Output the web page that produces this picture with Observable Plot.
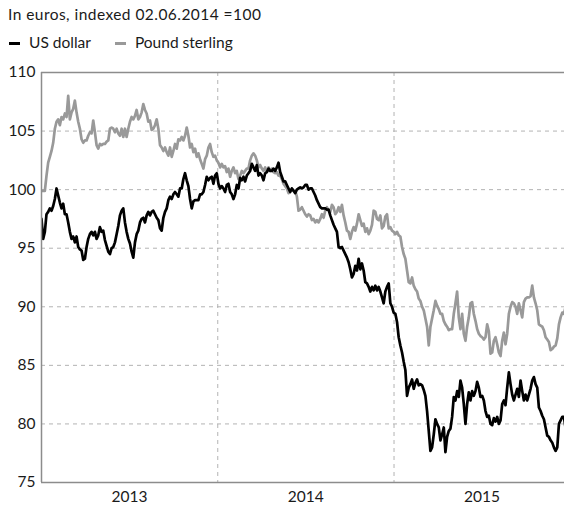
<!DOCTYPE html>
<html><head><meta charset="utf-8">
<script src="https://cdn.jsdelivr.net/npm/d3@7"></script>
<script src="https://cdn.jsdelivr.net/npm/@observablehq/plot@0.6"></script>
<style>
body{margin:0;background:#fff;font-family:Lato,sans-serif;color:#1a1a1a}
#wrap{position:relative;width:564px;height:505px;overflow:hidden}
.t{position:absolute;font-size:15.5px;white-space:nowrap;line-height:18px}
.sw{display:inline-block;width:11px;height:3px;vertical-align:middle;margin-right:9px;position:relative;top:-1px}
#chart{position:absolute;left:0;top:60px}
</style></head><body>
<div id="wrap">
<div class="t" style="left:8px;top:5px;letter-spacing:0.45px">In euros, indexed 02.06.2014 =100</div>
<div class="t" style="left:9px;top:33px"><span class="sw" style="background:#000"></span>US dollar<span style="display:inline-block;width:24px"></span><span class="sw" style="background:#999"></span>Pound sterling</div>
<div id="chart"></div>
</div>
<script>
// Series sampled at a regular step from 1 Jan 2013
const startDate = "2013-01-01";
const stepDays = 3.4564;
const seriesNames = ["US dollar", "Pound sterling"];
const yTicks = [75, 80, 85, 90, 95, 100, 105, 110];
const yearLabels = ["2013", "2014", "2015"];
const yearBoundaries = ["2014-01-01", "2015-01-01"];

const usDollar = [
97.5,95.8,96.4,97.9,98.1,98.4,98.2,98.6,99.2,100.1,99.5,98.9,98.4,98.8,97.9,97.9,97.2,96.4,95.8,96.0,
95.5,96.0,95.1,94.9,94.8,94.0,94.1,95.1,95.8,96.2,96.4,96.1,96.4,95.8,96.1,96.8,96.4,96.5,95.7,95.2,
94.7,94.5,95.0,95.1,95.5,96.2,96.9,97.8,98.2,98.4,97.2,96.4,95.8,95.4,94.7,94.2,95.5,96.2,96.5,97.2,
97.5,97.6,97.2,97.8,98.1,97.8,98.1,98.2,97.9,97.6,97.4,96.7,96.5,97.6,98.1,98.4,99.1,99.4,99.2,99.6,
99.8,99.6,99.4,100.1,100.1,100.9,101.4,100.8,100.3,99.2,98.4,99.0,99.1,99.1,99.1,99.6,99.6,99.8,100.4,101.1,
100.8,101.0,101.1,100.5,101.2,101.4,100.5,100.1,100.3,100.1,99.8,100.4,100.5,99.8,99.6,99.2,99.6,100.4,100.1,101.0,
100.8,101.1,100.7,101.2,101.4,101.6,102.2,101.9,101.6,102.1,101.2,101.4,101.2,100.8,101.4,101.5,101.8,101.6,101.6,101.8,
101.6,101.9,102.3,101.5,101.1,100.7,100.7,100.4,100.1,99.8,
100.1,99.9,99.7,100.0,100.1,100.2,100.1,100.2,100.4,100.4,100.0,100.1,100.1,99.8,99.5,99.1,98.8,98.5,98.4,98.4,
98.4,98.3,98.3,97.8,97.4,97.0,96.7,96.4,95.1,95.0,95.1,94.8,94.5,94.2,93.8,93.2,92.5,92.8,93.5,93.1,
94.1,93.2,93.7,93.1,92.1,92.0,91.7,91.3,91.7,91.4,91.8,91.4,91.7,91.3,90.8,90.3,91.3,91.7,92.0,90.3,
90.0,89.5,89.4,88.7,87.4,86.7,86.1,85.3,84.6,82.4,83.1,83.4,83.8,83.0,83.5,83.8,83.3,83.4,83.3,82.9,
82.4,81.1,79.4,77.7,78.0,79.1,80.4,80.0,79.7,78.6,79.1,79.7,77.6,78.9,79.4,79.6,80.6,82.3,82.0,82.8,
82.3,83.7,83.1,81.7,80.0,81.7,82.7,82.0,82.8,82.4,82.8,83.6,83.1,82.3,82.4,82.0,81.1,80.6,80.7,80.0,
79.9,80.5,80.2,80.6,80.0,80.3,81.7,82.0,81.6,83.1,84.4,83.4,82.5,82.0,82.5,83.0,82.3,83.7,82.8,82.0,
82.5,82.0,82.5,83.0,83.7,84.0,83.4,83.1,81.4,81.1,80.7,80.4,79.7,79.0,78.9,78.6,78.4,78.0,77.7,78.0,
80.0,80.3,80.6,80.6,79.6
];

const poundSterling = [
99.9,99.9,99.9,101.2,102.3,102.8,103.3,104.0,105.2,105.8,106.0,105.5,106.2,106.0,106.5,106.2,108.0,106.0,106.6,106.9,
107.6,106.6,105.8,105.2,104.3,104.0,104.2,104.2,104.6,104.9,104.8,105.9,104.9,103.8,103.5,103.9,103.8,103.9,103.9,104.1,
104.2,105.2,105.3,105.2,104.9,105.2,104.8,104.6,105.2,104.5,105.2,104.5,105.2,105.8,106.2,106.0,106.3,106.8,106.0,106.2,
106.6,107.3,106.8,106.5,105.8,105.9,105.1,105.2,105.5,106.0,105.2,103.8,103.6,103.3,103.6,103.2,102.9,103.6,102.8,103.3,
103.9,103.5,104.3,104.2,104.5,104.2,104.6,105.3,104.6,103.6,103.9,103.2,103.5,102.8,103.1,102.6,102.2,101.8,102.6,102.9,
103.6,103.9,103.2,102.8,102.9,102.5,102.3,101.9,102.2,101.9,102.0,101.5,101.8,101.1,101.6,101.9,101.4,101.6,100.9,101.2,
101.6,101.4,101.6,101.8,101.8,102.5,102.9,103.1,102.9,102.5,101.9,102.1,101.8,101.6,101.9,101.5,101.9,101.6,101.8,101.5,
101.4,101.5,101.2,101.2,100.9,100.5,100.3,100.1,99.7,99.9,
100.1,99.9,99.9,99.4,98.2,98.3,98.5,98.2,97.9,97.7,97.9,97.8,97.4,97.5,97.2,97.4,97.2,97.5,97.9,97.6,
98.2,98.5,98.2,98.1,98.7,98.5,97.9,98.1,98.5,98.1,98.7,97.8,97.2,96.5,96.4,95.8,96.4,96.8,96.5,97.1,
97.9,97.4,96.9,97.1,96.4,96.7,96.2,96.5,97.0,98.2,98.1,97.5,97.4,97.8,96.7,96.9,97.7,97.9,96.7,96.8,
96.5,96.4,96.2,96.4,96.1,96.0,95.1,94.5,94.1,93.1,92.1,92.0,92.5,91.8,91.5,91.3,90.7,90.5,90.0,89.7,
89.0,88.3,86.7,88.3,89.0,89.7,90.5,90.1,89.8,89.4,89.4,88.8,88.5,88.3,88.0,88.1,88.1,89.4,90.3,91.3,
89.1,88.1,89.4,87.7,87.1,88.3,89.1,90.3,90.4,89.4,88.8,88.1,87.7,87.5,87.4,87.2,87.4,88.5,87.9,86.0,
86.1,87.1,87.4,86.8,86.1,85.8,87.1,87.8,86.8,87.7,89.4,90.0,90.4,90.3,90.0,89.4,90.3,89.7,89.1,90.4,
90.7,90.8,90.8,90.9,91.8,90.8,90.3,89.7,88.5,88.4,88.3,88.0,87.4,87.2,87.0,86.3,86.4,86.6,86.7,87.3,
88.5,89.1,89.5,89.4,90.0
];

const t0 = new Date(startDate + "T00:00:00Z").getTime();
const toRows = (vals, name) => vals.map((v, i) => ({date: new Date(t0 + i * stepDays * 864e5), value: v, series: name}));
const rowsUS = toRows(usDollar, seriesNames[0]);
const rowsGB = toRows(poundSterling, seriesNames[1]);

const d = s => new Date(s + "T00:00:00Z");
const xDomain = [d("2013-01-01"), d("2015-12-20")];
const midYears = yearLabels.map(y => d(y + "-07-02"));

const chart = Plot.plot({
  width: 564,
  height: 445,
  marginTop: 12,
  marginBottom: 23,
  marginLeft: 41,
  marginRight: 0,
  style: {fontFamily: "Lato, sans-serif", fontSize: "15.5px", color: "#1a1a1a", background: "#fff"},
  x: {type: "utc", domain: xDomain, label: null},
  y: {domain: [75, 110], label: null},
  marks: [
    Plot.ruleY(yTicks.filter(v => v > 75 && v < 110), {stroke: "#b3b3b3", strokeDasharray: "4,4", strokeWidth: 1}),
    Plot.ruleX(yearBoundaries.map(d), {stroke: "#b3b3b3", strokeDasharray: "4,4", strokeWidth: 1}),
    Plot.line(rowsGB, {x: "date", y: "value", stroke: "#999999", strokeWidth: 2.7, clip: true}),
    Plot.line(rowsUS, {x: "date", y: "value", stroke: "#000000", strokeWidth: 2.7, clip: true}),
    Plot.ruleY([110, 75], {stroke: "#8c8c8c", strokeWidth: 1.5}),
    Plot.ruleX([xDomain[0]], {stroke: "#8c8c8c", strokeWidth: 1.5}),
    Plot.axisY({ticks: yTicks, tickSize: 0, tickPadding: 6, label: null, tickFormat: v => String(v)}),
    Plot.axisX({ticks: midYears, tickSize: 0, tickPadding: 8, label: null, tickFormat: v => String(v.getUTCFullYear())})
  ]
});
document.getElementById("chart").appendChild(chart);
</script>
</body></html>
